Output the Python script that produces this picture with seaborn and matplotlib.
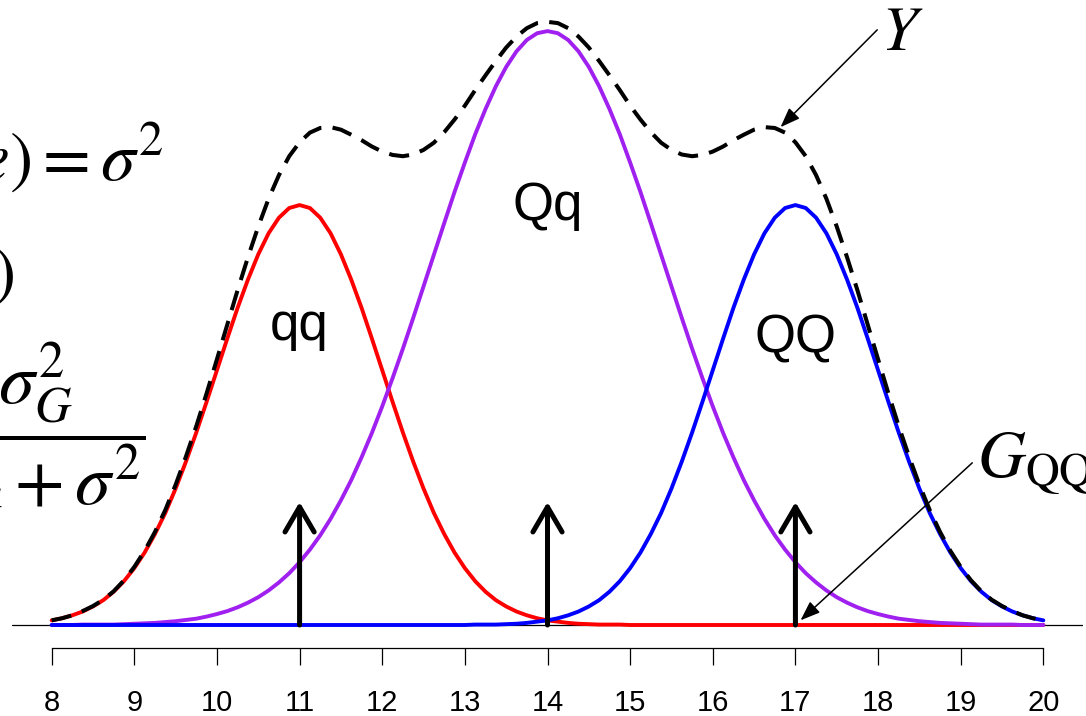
import numpy as np
import pandas as pd
import matplotlib
matplotlib.use("Agg")
import matplotlib.pyplot as plt
import seaborn as sns

# Phenotype grid (step 1/8) and the three genotype densities (weights 1/4, 1/2, 1/4)
x_vals = np.arange(8, 20.001, 0.125)

qq_density = [
    0.0011, 0.0016, 0.0023, 0.0032, 0.0044, 0.0059, 0.0079, 0.0104,
    0.0135, 0.0172, 0.0216, 0.0266, 0.0324, 0.0388, 0.0457, 0.0530,
    0.0605, 0.0680, 0.0753, 0.0820, 0.0880, 0.0930, 0.0967, 0.0990,
    0.0997, 0.0990, 0.0967, 0.0930, 0.0880, 0.0820, 0.0753, 0.0680,
    0.0605, 0.0530, 0.0457, 0.0388, 0.0324, 0.0266, 0.0216, 0.0172,
    0.0135, 0.0104, 0.0079, 0.0059, 0.0044, 0.0032, 0.0023, 0.0016,
    0.0011, 0.0008, 0.0005, 0.0003, 0.0002, 0.0001, 0.0001, 0.0001,
    0.0, 0.0, 0.0, 0.0, 0.0, 0.0, 0.0, 0.0,
    0.0, 0.0, 0.0, 0.0, 0.0, 0.0, 0.0, 0.0,
    0.0, 0.0, 0.0, 0.0, 0.0, 0.0, 0.0, 0.0,
    0.0, 0.0, 0.0, 0.0, 0.0, 0.0, 0.0, 0.0,
    0.0, 0.0, 0.0, 0.0, 0.0, 0.0, 0.0, 0.0,
    0.0,
]

Qq_density = [
    0.0, 0.0, 0.0, 0.0001, 0.0001, 0.0001, 0.0001, 0.0002,
    0.0003, 0.0004, 0.0005, 0.0007, 0.0009, 0.0012, 0.0015, 0.0020,
    0.0026, 0.0033, 0.0042, 0.0053, 0.0066, 0.0082, 0.0101, 0.0123,
    0.0149, 0.0179, 0.0213, 0.0252, 0.0296, 0.0344, 0.0398, 0.0456,
    0.0519, 0.0586, 0.0656, 0.0729, 0.0804, 0.0879, 0.0954, 0.1028,
    0.1098, 0.1165, 0.1225, 0.1279, 0.1325, 0.1362, 0.1389, 0.1405,
    0.1410, 0.1405, 0.1389, 0.1362, 0.1325, 0.1279, 0.1225, 0.1165,
    0.1098, 0.1028, 0.0954, 0.0879, 0.0804, 0.0729, 0.0656, 0.0586,
    0.0519, 0.0456, 0.0398, 0.0344, 0.0296, 0.0252, 0.0213, 0.0179,
    0.0149, 0.0123, 0.0101, 0.0082, 0.0066, 0.0053, 0.0042, 0.0033,
    0.0026, 0.0020, 0.0015, 0.0012, 0.0009, 0.0007, 0.0005, 0.0004,
    0.0003, 0.0002, 0.0001, 0.0001, 0.0001, 0.0001, 0.0, 0.0,
    0.0,
]

QQ_density = [
    0.0, 0.0, 0.0, 0.0, 0.0, 0.0, 0.0, 0.0,
    0.0, 0.0, 0.0, 0.0, 0.0, 0.0, 0.0, 0.0,
    0.0, 0.0, 0.0, 0.0, 0.0, 0.0, 0.0, 0.0,
    0.0, 0.0, 0.0, 0.0, 0.0, 0.0, 0.0, 0.0,
    0.0, 0.0, 0.0, 0.0, 0.0, 0.0, 0.0, 0.0,
    0.0, 0.0001, 0.0001, 0.0001, 0.0002, 0.0003, 0.0005, 0.0008,
    0.0011, 0.0016, 0.0023, 0.0032, 0.0044, 0.0059, 0.0079, 0.0104,
    0.0135, 0.0172, 0.0216, 0.0266, 0.0324, 0.0388, 0.0457, 0.0530,
    0.0605, 0.0680, 0.0753, 0.0820, 0.0880, 0.0930, 0.0967, 0.0990,
    0.0997, 0.0990, 0.0967, 0.0930, 0.0880, 0.0820, 0.0753, 0.0680,
    0.0605, 0.0530, 0.0457, 0.0388, 0.0324, 0.0266, 0.0216, 0.0172,
    0.0135, 0.0104, 0.0079, 0.0059, 0.0044, 0.0032, 0.0023, 0.0016,
    0.0011,
]

# Mixture density of the phenotype Y
Y_density = [
    0.0011, 0.0016, 0.0023, 0.0033, 0.0045, 0.0060, 0.0080, 0.0106,
    0.0138, 0.0176, 0.0221, 0.0273, 0.0333, 0.0400, 0.0472, 0.0550,
    0.0631, 0.0713, 0.0795, 0.0873, 0.0946, 0.1012, 0.1068, 0.1113,
    0.1146, 0.1169, 0.1180, 0.1182, 0.1176, 0.1164, 0.1151, 0.1136,
    0.1124, 0.1116, 0.1113, 0.1117, 0.1128, 0.1145, 0.1170, 0.1200,
    0.1233, 0.1270, 0.1305, 0.1339, 0.1371, 0.1397, 0.1417, 0.1429,
    0.1432, 0.1429, 0.1417, 0.1397, 0.1371, 0.1339, 0.1305, 0.1270,
    0.1233, 0.1200, 0.1170, 0.1145, 0.1128, 0.1117, 0.1113, 0.1116,
    0.1124, 0.1136, 0.1151, 0.1164, 0.1176, 0.1182, 0.1180, 0.1169,
    0.1146, 0.1113, 0.1068, 0.1012, 0.0946, 0.0873, 0.0795, 0.0713,
    0.0631, 0.0550, 0.0472, 0.0400, 0.0333, 0.0273, 0.0221, 0.0176,
    0.0138, 0.0106, 0.0080, 0.0060, 0.0045, 0.0033, 0.0023, 0.0016,
    0.0011,
]

genotype_labels = ["qq", "Qq", "QQ"]
genotype_values = [11, 14, 17]
genotype_colors = ["#FF0000", "#A020F0", "#0000FF"]
arrow_height = 0.0292
x_ticks = list(range(8, 21))

df = pd.DataFrame({
    "x": np.tile(x_vals, 3),
    "density": qq_density + Qq_density + QQ_density,
    "genotype": np.repeat(genotype_labels, len(x_vals)),
})

sns.set_style("white")
plt.rcParams["font.family"] = ["Liberation Sans", "DejaVu Sans"]
plt.rcParams["mathtext.fontset"] = "stix"
plt.rcParams["text.color"] = "black"

W, H = 1086, 716
fig = plt.figure(figsize=(W / 100, H / 100), dpi=100)
ax = fig.add_axes([12 / W, 0, (1083 - 12) / W, 1])

px_per_unit = 4212.0
y0_px = 625
ax.set_xlim(7.52, 20.48)
ax.set_ylim(-(H - y0_px) / px_per_unit, y0_px / px_per_unit)

# baseline
ax.axhline(0, color="black", lw=0.9, zorder=1)

# genotype-specific densities
sns.lineplot(data=df, x="x", y="density", hue="genotype",
             palette=dict(zip(genotype_labels, genotype_colors)),
             hue_order=genotype_labels, lw=2.8, legend=False, ax=ax,
             zorder=2, solid_joinstyle="round")

# mixture density of Y
sns.lineplot(x=x_vals, y=Y_density, color="black", lw=2.9,
             linestyle=(0, (5, 2.8)), ax=ax, zorder=3)

# genotypic values
for g in genotype_values:
    ax.annotate("", xy=(g, arrow_height), xytext=(g, 0),
                arrowprops=dict(arrowstyle="->,head_length=1.8,head_width=1.05",
                                lw=3.6, color="black", shrinkA=0, shrinkB=0,
                                mutation_scale=10, capstyle="round",
                                joinstyle="round"),
                zorder=4)

label_y = {"qq": 0.0677, "Qq": 0.0962, "QQ": 0.0648}
for lab, g in zip(genotype_labels, genotype_values):
    ax.text(g, label_y[lab], lab, ha="center", va="baseline", fontsize=38,
            family="Liberation Sans", color="black", zorder=5)

# Y annotation
ax.annotate("", xy=(16.82, 0.1182), xytext=(17.99, 0.1413),
            arrowprops=dict(arrowstyle="-|>,head_length=1.2,head_width=0.45",
                            lw=1.1, color="black", shrinkA=0, shrinkB=0,
                            mutation_scale=10))
ax.text(18.29, 0.1405, r"$Y$", ha="center", va="center", fontsize=46,
        color="black")

# G_QQ annotation
ax.annotate("", xy=(17.0, 0.0), xytext=(19.14, 0.0385),
            arrowprops=dict(arrowstyle="-|>,head_length=1.2,head_width=0.45",
                            lw=1.1, color="black", shrinkA=0, shrinkB=5,
                            mutation_scale=10))
ax.text(19.2, 0.0385, r"$G_{\mathrm{QQ}}$", ha="left", va="center",
        fontsize=48, color="black")

# x axis drawn below the baseline
for side in ["left", "right", "top"]:
    ax.spines[side].set_visible(False)
ax.spines["bottom"].set_position(("data", -23 / px_per_unit))
ax.spines["bottom"].set_bounds(8, 20)
ax.spines["bottom"].set_linewidth(0.9)
ax.spines["bottom"].set_color("black")
ax.set_yticks([])
ax.set_xticks(x_ticks)
ax.set_xticklabels([str(t) for t in x_ticks])
ax.tick_params(axis="x", bottom=True, direction="out", length=12.2, width=0.9,
               pad=17, labelsize=21, colors="black")
ax.set_xlabel("")
ax.set_ylabel("")

# model equations on the left
fig.text(164 / W, 1 - 181 / H, r"$\mathrm{Var}(e)=\sigma^2$",
         ha="right", va="baseline", fontsize=50, color="black")
fig.text(14 / W, 1 - 294 / H, r"$\mathrm{Var}(G)$",
         ha="right", va="baseline", fontsize=50, color="black")
fig.text(145 / W, 1 - 435 / H,
         r"$h^2 = \dfrac{\sigma_G^2}{\sigma_G^2+\sigma^2}$",
         ha="right", va="center", fontsize=52, color="black")

fig.savefig("out.png", dpi=100)
